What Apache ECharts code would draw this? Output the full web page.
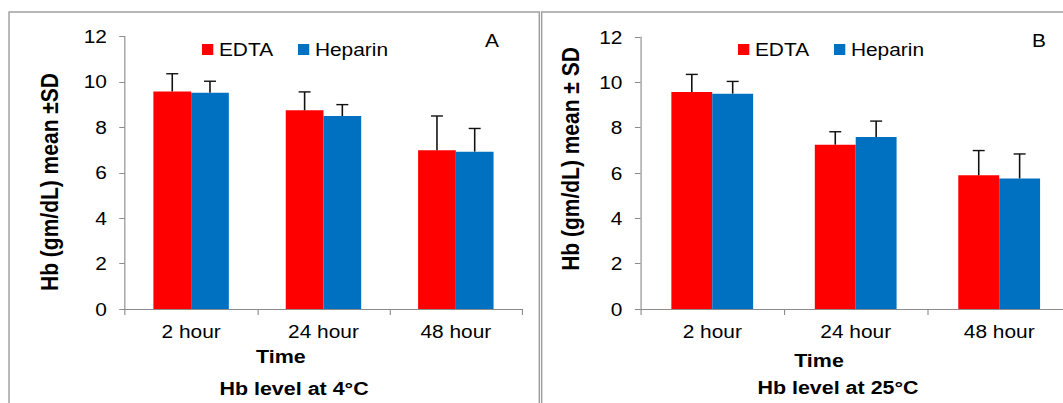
<!DOCTYPE html>
<html>
<head>
<meta charset="utf-8">
<script src="https://cdn.jsdelivr.net/npm/echarts@6/dist/echarts.min.js"></script>
<style>
html,body{margin:0;padding:0;background:#fff;overflow:hidden;width:1063px;height:403px;}
#c{width:960px;height:403px;transform:scaleX(1.12965);transform-origin:0 0;}
</style>
</head>
<body>
<div id="c"></div>
<script>
// ---- data ----
const categories = ['2 hour', '24 hour', '48 hour'];
const seriesNames = ['EDTA', 'Heparin'];
// Panel A: Hb level at 4°C
const edtaA = [9.58, 8.75, 6.99];
const edtaA_sd = [0.78, 0.81, 1.51];
const heparinA = [9.52, 8.50, 6.93];
const heparinA_sd = [0.51, 0.50, 1.02];
// Panel B: Hb level at 25°C
const edtaB = [9.57, 7.25, 5.90];
const edtaB_sd = [0.78, 0.57, 1.09];
const heparinB = [9.50, 7.59, 5.76];
const heparinB_sd = [0.54, 0.70, 1.08];
// axis
const yMin = 0, yMax = 12, yStep = 2;
// texts
const panelLetters = ['A', 'B'];
const xTitle = 'Time';
const yTitles = ['Hb (gm/dL) mean ±SD', 'Hb (gm/dL) mean ± SD'];
const panelTitles = ['Hb level at 4°C', 'Hb level at 25°C'];

// ---- style ----
const FONT = '"Liberation Sans", Arial, sans-serif';
const RED = '#ff0000', BLUE = '#0070c0';
const AXIS = '#8c8c8c';
const GAP = 0.43;

const chart = echarts.init(document.getElementById('c'), null, {renderer: 'svg'});

function errItem(offset) {
  return function (params, api) {
    const idx = api.value(0), v = api.value(1), sd = api.value(2);
    const base = api.coord([idx, v]);
    const top = api.coord([idx, v + sd]);
    const band = api.size([1, 0])[0];
    const bw = band * (1 - GAP) / 2;
    const cx = base[0] + offset * bw;
    const half = 5.3;
    const st = {stroke: '#111', lineWidth: 1.4};
    return {type: 'group', children: [
      {type: 'line', shape: {x1: cx, y1: base[1], x2: cx, y2: top[1]}, style: st},
      {type: 'line', shape: {x1: cx - half, y1: top[1], x2: cx + half, y2: top[1]}, style: st}
    ]};
  };
}
function errData(vals, sds) { return vals.map((v, i) => [i, v, sds[i]]); }

function barSeries(name, data, color, idx) {
  return {name: name, type: 'bar', xAxisIndex: idx, yAxisIndex: idx, data: data,
    barGap: '0%', barCategoryGap: (GAP * 100) + '%', itemStyle: {color: color}};
}
function errSeries(vals, sds, offset, idx) {
  return {name: 'sd', type: 'custom', xAxisIndex: idx, yAxisIndex: idx, z: 5,
    data: errData(vals, sds), encode: {x: 0, y: 1}, renderItem: errItem(offset)};
}

const grids = [
  {left: 110.6, width: 351.5, top: 36.5, bottom: 94},
  {left: 567, width: 381, top: 37, bottom: 94}
];

function txt(text, x, y, size, bold, rot) {
  return {type: 'text', x: x, y: y, rotation: rot || 0, z: 10,
    style: {text: text, fill: '#000', font: (bold ? 'bold ' : '') + size + 'px ' + FONT,
      textAlign: 'center', textVerticalAlign: 'middle', align: 'center', verticalAlign: 'middle'}};
}

const option = {
  animation: false,
  textStyle: {fontFamily: FONT},
  legend: [178.8, 653.3].map(l => ({
    left: l, top: 40, padding: 0, itemWidth: 10, itemHeight: 11, itemGap: 22, icon: 'rect',
    data: seriesNames, textStyle: {fontSize: 18.5, color: '#000', fontFamily: FONT}
  })),
  grid: grids,
  xAxis: [0, 1].map(i => ({
    type: 'category', gridIndex: i, data: categories,
    axisLine: {lineStyle: {color: AXIS, width: 1}},
    axisTick: {show: true, length: 6, lineStyle: {color: AXIS}},
    axisLabel: {fontSize: 18.5, color: '#000', margin: 13, fontFamily: FONT}
  })),
  yAxis: [0, 1].map(i => ({
    type: 'value', gridIndex: i, min: yMin, max: yMax, interval: yStep,
    axisLine: {show: true, lineStyle: {color: AXIS, width: 1}},
    axisTick: {show: true, length: 5, lineStyle: {color: AXIS}},
    splitLine: {show: false},
    axisLabel: {fontSize: 18.5, color: '#000', margin: 16, fontFamily: FONT}
  })),
  graphic: [
    {type: 'rect', shape: {x: 8, y: 12, width: 469.4, height: 430}, style: {fill: 'none', stroke: '#a0a0a0', lineWidth: 1.3}, z: -1},
    {type: 'rect', shape: {x: 479.5, y: 12, width: 500, height: 430}, style: {fill: 'none', stroke: '#a0a0a0', lineWidth: 1.3}, z: -1},
    txt(panelLetters[0], 435.5, 40, 18.5, false),
    txt(panelLetters[1], 919.7, 40, 18.5, false),
    txt(xTitle, 248.7, 356, 19, true),
    txt(xTitle, 725, 360, 19, true),
    txt(panelTitles[0], 260.3, 388, 19, true),
    txt(panelTitles[1], 741.8, 387, 19, true),
    txt(yTitles[0], 44.3, 182, 21, true, Math.PI / 2),
    txt(yTitles[1], 505.5, 159, 21, true, Math.PI / 2)
  ],
  series: [
    barSeries('EDTA', edtaA, RED, 0),
    barSeries('Heparin', heparinA, BLUE, 0),
    barSeries('EDTA', edtaB, RED, 1),
    barSeries('Heparin', heparinB, BLUE, 1),
    errSeries(edtaA, edtaA_sd, -0.5, 0),
    errSeries(heparinA, heparinA_sd, 0.5, 0),
    errSeries(edtaB, edtaB_sd, -0.5, 1),
    errSeries(heparinB, heparinB_sd, 0.5, 1)
  ]
};
chart.setOption(option);
</script>
</body>
</html>
